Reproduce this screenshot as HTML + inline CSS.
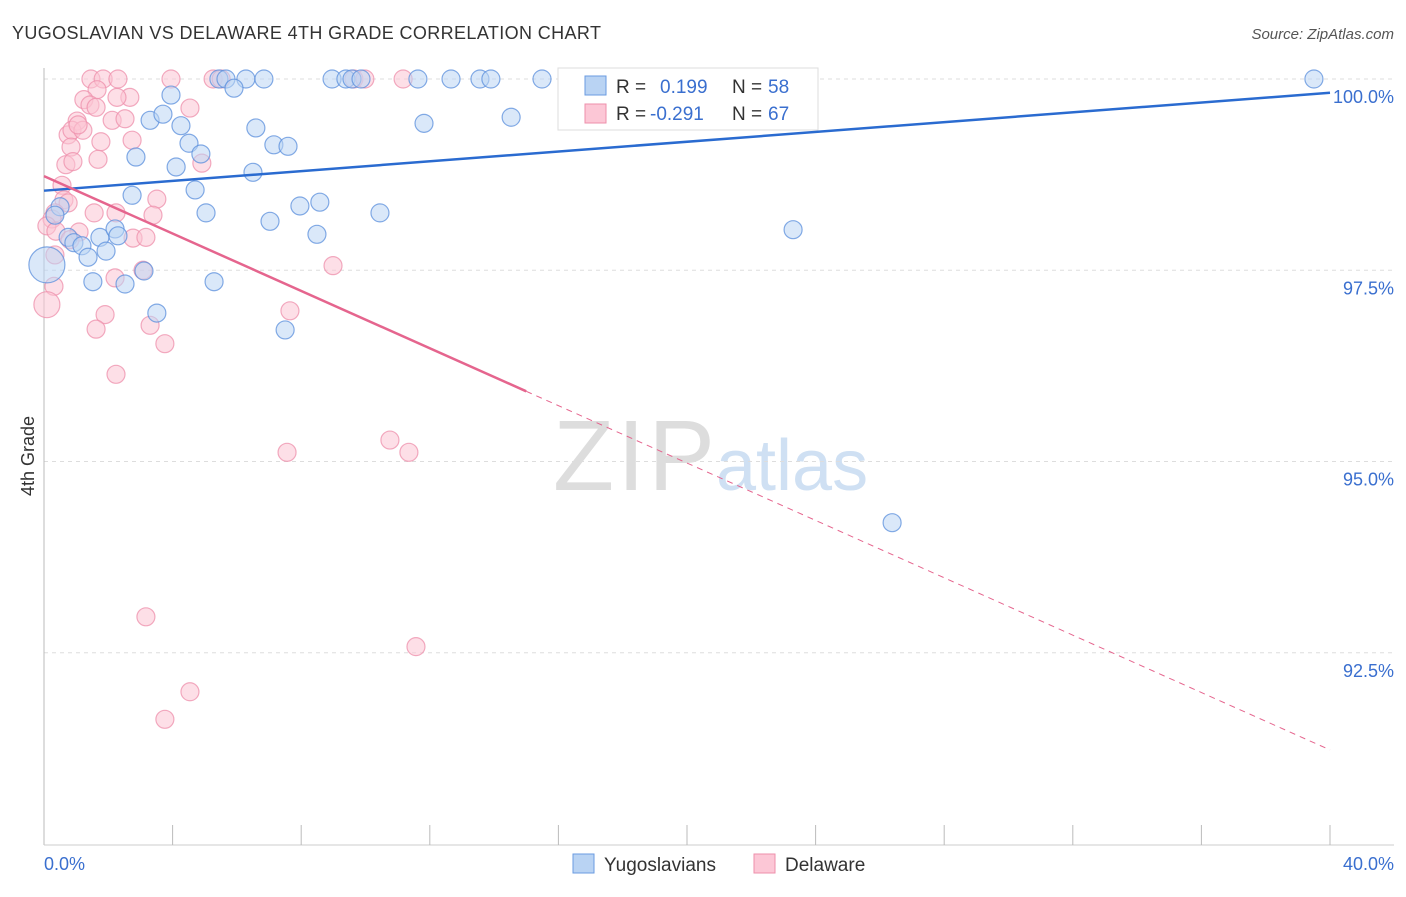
<!DOCTYPE html>
<html><head><meta charset="utf-8"><style>
body{margin:0;background:#fff;font-family:"Liberation Sans",sans-serif;}
svg text{font-family:"Liberation Sans",sans-serif;}
</style></head><body>
<svg id="chart" width="1406" height="892" xmlns="http://www.w3.org/2000/svg">
<text x="12" y="39" font-size="18" fill="#333" textLength="589">YUGOSLAVIAN VS DELAWARE 4TH GRADE CORRELATION CHART</text>
<text x="1394" y="39" font-size="15" fill="#555" text-anchor="end" font-style="italic">Source: ZipAtlas.com</text>
<text x="553" y="490" font-size="100" fill="#ddd" font-family="Liberation Serif" textLength="162">ZIP</text>
<text x="716" y="490" font-size="72" fill="#cfe0f3">atlas</text>
<g id="grid"></g><g id="pts"></g><g id="lines"></g>
<text x="34" y="456" font-size="18" fill="#333" transform="rotate(-90 34 456)" text-anchor="middle">4th Grade</text>
<g>
<rect x="558" y="68" width="260" height="62" fill="#fff" stroke="#ddd"/>
<rect x="585" y="76" width="21" height="19" fill="#b9d3f3" stroke="#6a9be0"/>
<rect x="585" y="104" width="21" height="19" fill="#fcc7d6" stroke="#ee8fab"/>
<text x="616" y="93" font-size="19" fill="#333">R =</text><text x="660" y="93" font-size="19" fill="#3a6fcf">0.199</text>
<text x="732" y="93" font-size="19" fill="#333">N =</text><text x="768" y="93" font-size="19" fill="#3a6fcf">58</text>
<text x="616" y="120" font-size="19" fill="#333">R =</text><text x="650" y="120" font-size="19" fill="#3a6fcf">-0.291</text>
<text x="732" y="120" font-size="19" fill="#333">N =</text><text x="768" y="120" font-size="19" fill="#3a6fcf">67</text>
</g>
<g>
<rect x="573" y="854" width="21" height="19" fill="#b9d3f3" stroke="#6a9be0"/>
<text x="604" y="871" font-size="19" fill="#333">Yugoslavians</text>
<rect x="754" y="854" width="21" height="19" fill="#fcc7d6" stroke="#ee8fab"/>
<text x="785" y="871" font-size="19" fill="#333">Delaware</text>
</g>
</svg>
<script>
const blueX=[5.44,5.66,6.28,6.84,8.96,9.39,9.58,9.86,11.63,12.66,13.56,13.90,15.49,20.59,39.5,3.95,5.91,3.30,3.70,4.26,6.59,4.51,7.15,7.59,2.86,4.88,4.11,6.50,11.82,14.53,2.74,4.70,0.50,0.34,5.04,7.03,7.96,8.58,10.45,23.30,8.49,0.75,0.93,1.18,1.74,2.21,2.30,1.93,1.37,3.11,1.52,2.52,5.29,3.51,7.50,26.38,0.09];
const blueY=[100,100,100,100,100,100,100,100,100,100,100,100,100,100,100,99.79,99.88,99.46,99.54,99.39,99.36,99.16,99.14,99.12,98.98,99.02,98.85,98.78,99.42,99.50,98.48,98.55,98.33,98.22,98.25,98.14,98.34,98.39,98.25,98.03,97.97,97.93,97.86,97.82,97.93,98.04,97.95,97.75,97.67,97.49,97.35,97.32,97.35,96.94,96.72,94.20,97.57];
const pinkX=[1.46,1.84,2.30,3.95,5.26,5.51,9.64,9.98,11.17,1.65,2.67,1.24,2.27,1.43,1.62,4.54,1.03,2.12,2.52,0.75,0.87,1.21,1.06,0.84,1.77,2.74,0.68,0.90,1.68,4.91,0.56,0.62,0.75,3.51,0.34,1.56,2.24,3.39,0.25,0.09,0.37,1.09,2.77,3.17,0.81,0.34,3.08,8.99,2.21,0.31,0.09,1.90,7.65,1.62,3.30,3.76,2.24,7.56,10.76,11.35,3.17,11.57,4.54,3.76];
const pinkY=[100,100,100,100,100,100,100,100,100,99.86,99.76,99.73,99.76,99.66,99.63,99.62,99.45,99.46,99.48,99.27,99.33,99.33,99.40,99.11,99.18,99.20,98.88,98.92,98.95,98.90,98.61,98.42,98.38,98.43,98.25,98.25,98.25,98.22,98.17,98.08,98.01,98.00,97.92,97.93,97.90,97.70,97.50,97.56,97.40,97.29,97.05,96.92,96.97,96.73,96.78,96.54,96.14,95.12,95.28,95.12,92.97,92.58,91.99,91.63];
const yTicks=[100,97.5,95,92.5];
const yTickLabels=["100.0%","97.5%","95.0%","92.5%"];
const blueTrend=[98.54,99.82];
const pinkTrend=[98.73,91.23];
const NS="http://www.w3.org/2000/svg";
const sx=v=>44+v*32.15, sy=v=>79+(100-v)*76.5;
function mk(t,a,p){const e=document.createElementNS(NS,t);for(const k in a)e.setAttribute(k,a[k]);p.appendChild(e);return e;}
const grid=document.getElementById('grid'),pts=document.getElementById('pts'),lines=document.getElementById('lines');
yTicks.forEach((t,i)=>{
 const l=mk('line',{x1:44,x2:1394,y1:sy(t),y2:sy(t),stroke:'#ddd','stroke-dasharray':'4,4'},grid);
 
 
 const tx=mk('text',{x:1394,y:sy(t)+24,'font-size':18,fill:'#3a6fcf','text-anchor':'end'},grid);
 tx.textContent=yTickLabels[i];
 
 
});
const ax=mk('line',{x1:44,x2:44,y1:68,y2:845,stroke:'#bbb'},grid);


const bx=mk('line',{x1:44,x2:1394,y1:845,y2:845,stroke:'#ccc'},grid);


for(let v=4;v<=40;v+=4){const t=mk('line',{x1:sx(v),x2:sx(v),y1:825,y2:845,stroke:'#bbb'},grid);
 
 }
[["0.0%",44,'start'],["40.0%",1394,'end']].forEach(a=>{const t=mk('text',{x:a[1],y:870,'font-size':18,fill:'#3a6fcf','text-anchor':a[2]},grid);t.textContent=a[0];
 
 });
function dots(X,Y,f,s,name){X.forEach((x,i)=>{const c=mk('circle',{cx:sx(x),cy:sy(Y[i]),r:(i==X.length-1&&name=='blue-point')?18:(name=='pink-point'&&i==50?13:9),fill:f,'fill-opacity':0.55,stroke:s,'stroke-opacity':0.75,'stroke-width':1.2},pts);
 
 });}
dots(pinkX,pinkY,'#fbc4d4','#ee8fab','pink-point');
dots(blueX,blueY,'#bcd5f4','#5b8fdc','blue-point');
const bl=mk('line',{x1:sx(0),y1:sy(blueTrend[0]),x2:sx(40),y2:sy(blueTrend[1]),stroke:'#2a6bd0','stroke-width':2.5},lines);


const pm=pinkTrend[0]+(pinkTrend[1]-pinkTrend[0])*15/40;
const pl=mk('line',{x1:sx(0),y1:sy(pinkTrend[0]),x2:sx(15),y2:sy(pm),stroke:'#e5658e','stroke-width':2.5},lines);


const pd=mk('line',{x1:sx(15),y1:sy(pm),x2:sx(40),y2:sy(pinkTrend[1]),stroke:'#e5658e','stroke-width':1,'stroke-dasharray':'6,5'},lines);


</script>
</body></html>
